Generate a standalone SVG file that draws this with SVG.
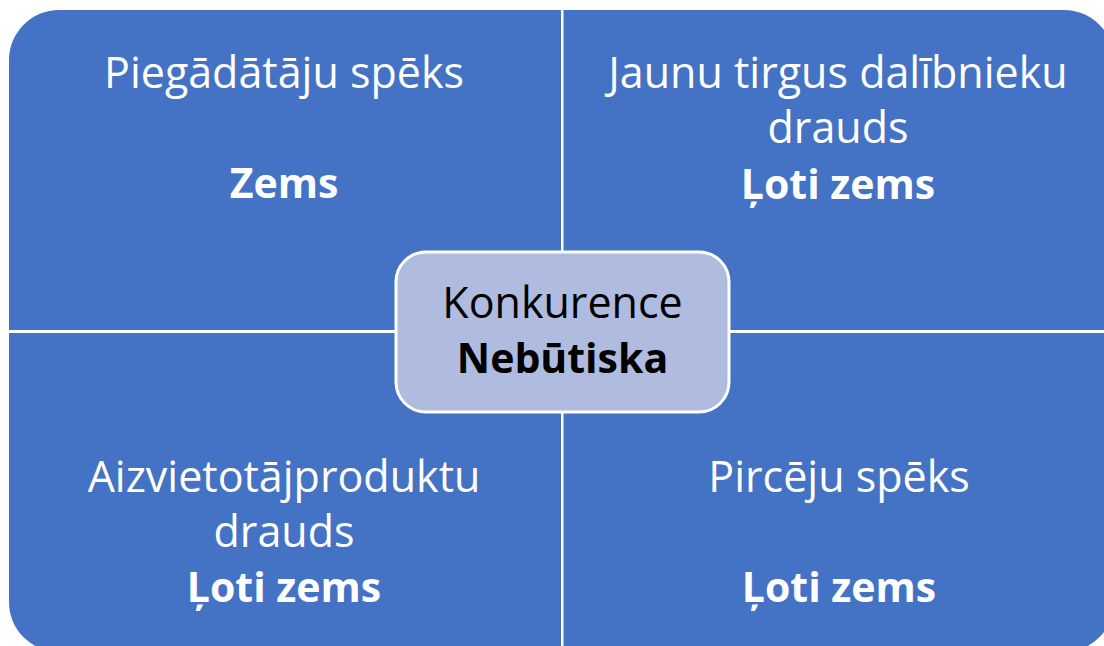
<svg xmlns="http://www.w3.org/2000/svg" width="1104" height="646" viewBox="0 0 1104 646">
<style>
.q{fill:#4472C4}
.t{font-family:"Open Sans","Liberation Sans",sans-serif;font-size:43px;fill:#FFFFFF;text-anchor:middle}
.b{font-weight:bold;font-size:41px}
.c{fill:#000000}
</style>
<rect width="1104" height="646" fill="#FFFFFF"/>
<g id="q-supplier">
<path class="q" d="M9,60 A50,50 0 0 1 59,10 L561,10 L561,330 L9,330 Z"/>
<text class="t" x="284" y="88">Piegādātāju spēks</text>
<text class="t b" x="284" y="198">Zems</text>
</g>
<g id="q-entrants">
<path class="q" d="M563.5,10 L1064,10 A50,50 0 0 1 1114,60 L1114,330 L563.5,330 Z"/>
<text class="t" x="838" y="88">Jaunu tirgus dalībnieku</text>
<text class="t" x="838" y="143">drauds</text>
<text class="t b" x="838" y="199">Ļoti zems</text>
</g>
<g id="q-substitutes">
<path class="q" d="M9,333 L561,333 L561,652 L59,652 A50,50 0 0 1 9,602 Z"/>
<text class="t" x="284" y="492">Aizvietotājproduktu</text>
<text class="t" x="284" y="547">drauds</text>
<text class="t b" x="284" y="602">Ļoti zems</text>
</g>
<g id="q-buyers">
<path class="q" d="M563.5,333 L1114,333 L1114,602 A50,50 0 0 1 1064,652 L563.5,652 Z"/>
<text class="t" x="839" y="492">Pircēju spēks</text>
<text class="t b" x="839" y="602">Ļoti zems</text>
</g>
<g id="center">
<rect x="396" y="252" width="333" height="160" rx="30" ry="30" fill="#AFBCE0" stroke="#FFFFFF" stroke-width="3"/>
<text class="t c" x="562.5" y="318">Konkurence</text>
<text class="t b c" x="562.5" y="373">Nebūtiska</text>
</g>
<g id="connectors"></g>
</svg>
